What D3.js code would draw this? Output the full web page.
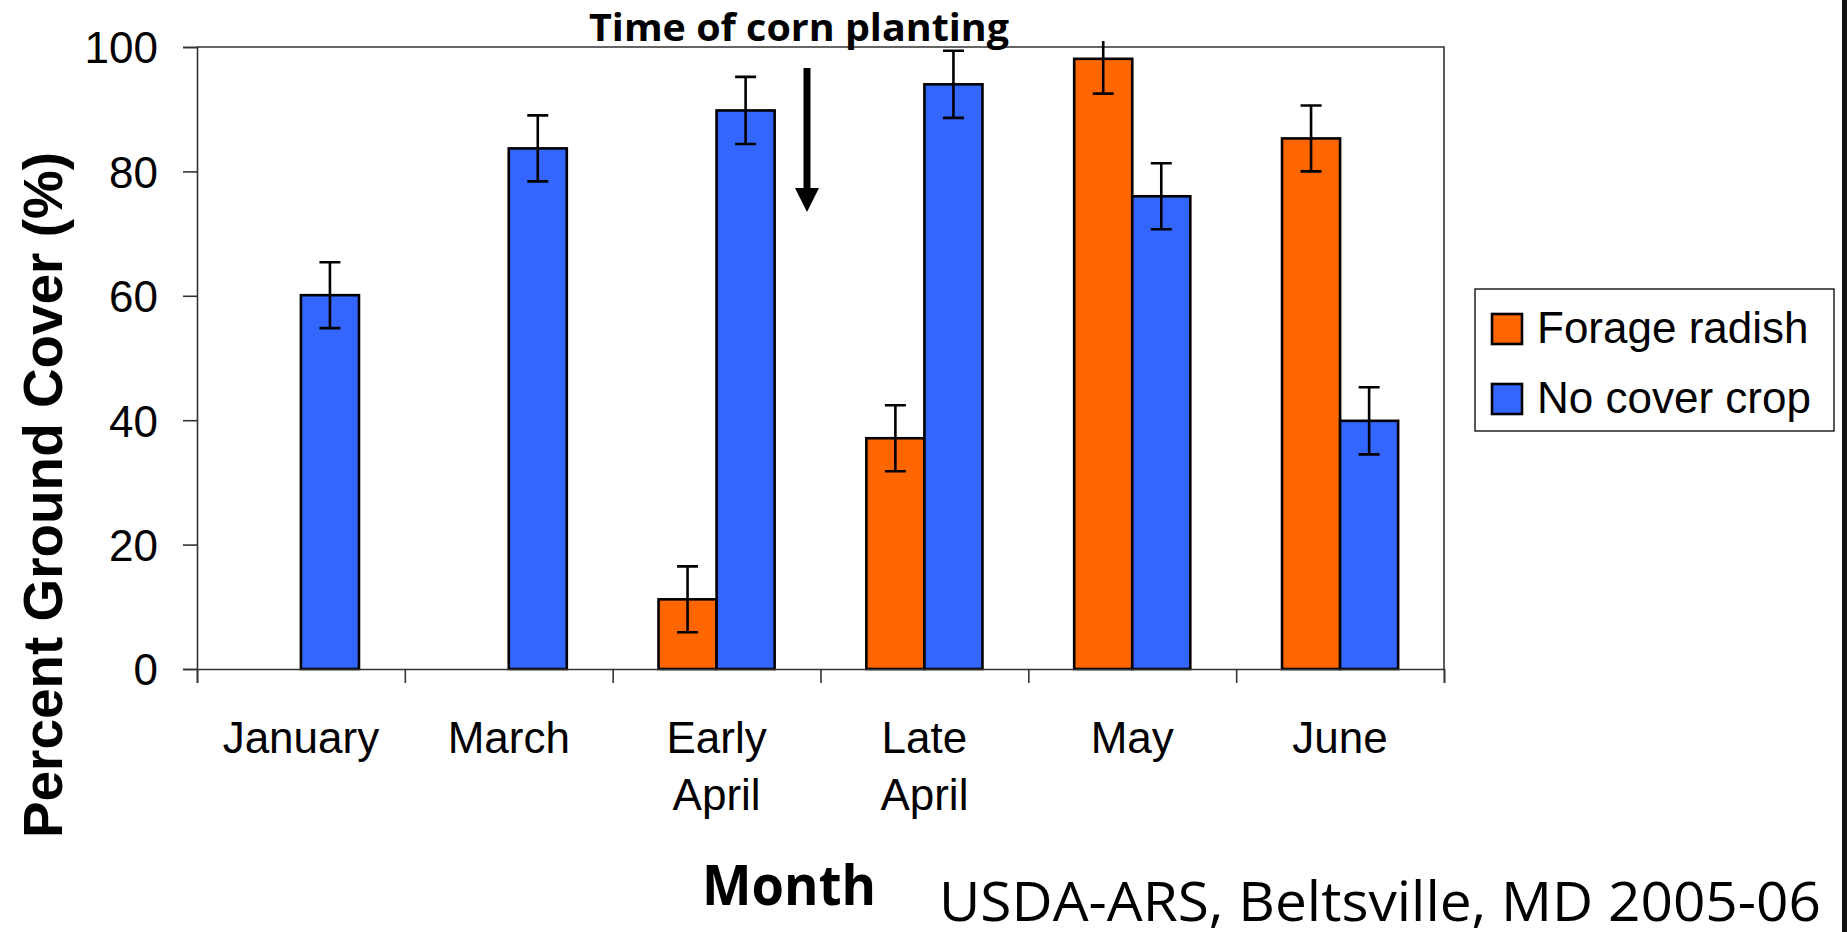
<!DOCTYPE html>
<html>
<head>
<meta charset="utf-8">
<script src="https://cdn.jsdelivr.net/npm/d3@7"></script>
<style>
  html, body { margin: 0; padding: 0; background: #fff; }
  svg { display: block; }
</style>
</head>
<body>
<svg id="chart" width="1847" height="932"></svg>
<script>
// data
const months = ["January", "March", "Early April", "Late April", "May", "June"];
const seriesNames = ["Forage radish", "No cover crop"];
const radish = [null, null, 11.2, 37.1, 98.1, 85.3];
const radishErr = [null, null, 5.3, 5.3, 5.6, 5.3];
const noCover = [60.1, 83.7, 89.8, 94.0, 76.0, 39.9];
const noCoverErr = [5.3, 5.3, 5.4, 5.4, 5.3, 5.4];
const yTicks = [0, 20, 40, 60, 80, 100];
const colors = ["#FF6600", "#3366FF"];

const svg = d3.select("#chart");
const margin = {top: 47, right: 403, bottom: 263, left: 197};
const width = +svg.attr("width");
const height = +svg.attr("height");

const x0 = d3.scaleBand()
  .domain(months)
  .range([margin.left, width - margin.right])
  .paddingInner(0).paddingOuter(0);
const x1 = d3.scaleBand()
  .domain(seriesNames)
  .range([0, x0.bandwidth()])
  .paddingInner(0).paddingOuter(0.79);
const y = d3.scaleLinear()
  .domain([0, 100])
  .range([height - margin.bottom, margin.top]);

// band edges for the category ticks
const edges = d3.scaleLinear().domain([0, months.length]).range(x0.range());

const axisColor = "#333";

// error bars get cut a little above the plot top
svg.append("defs").append("clipPath")
  .attr("id", "errclip")
  .append("rect")
    .attr("x", 0).attr("y", margin.top - 6)
    .attr("width", width).attr("height", height);

// plot frame (top and right)
svg.append("path")
  .attr("fill", "none")
  .attr("stroke", axisColor)
  .attr("stroke-width", 1.6)
  .attr("d", `M${x0.range()[0]},${y(100)}H${x0.range()[1]}V${y(0)}`);

// bars
const rows = months.map((m, i) => ({
  month: m,
  vals: [
    {s: seriesNames[0], v: radish[i], e: radishErr[i], c: colors[0]},
    {s: seriesNames[1], v: noCover[i], e: noCoverErr[i], c: colors[1]}
  ].filter(d => d.v != null)
}));

const groups = svg.selectAll(".grp")
  .data(rows)
  .enter().append("g")
    .attr("transform", d => `translate(${x0(d.month)},0)`);

groups.selectAll("rect")
  .data(d => d.vals)
  .enter().append("rect")
    .attr("x", d => x1(d.s))
    .attr("y", d => y(d.v))
    .attr("width", x1.bandwidth())
    .attr("height", d => y(0) - y(d.v))
    .attr("fill", d => d.c)
    .attr("stroke", "#000")
    .attr("stroke-width", 2.6);

// error bars
const capW = 10.5;
const errLayer = svg.append("g").attr("clip-path", "url(#errclip)");
rows.forEach(r => {
  r.vals.forEach(d => {
    const cx = x0(r.month) + x1(d.s) + x1.bandwidth() / 2;
    const t = y(d.v + d.e), b = y(d.v - d.e);
    errLayer.append("path")
      .attr("fill", "none")
      .attr("stroke", "#000")
      .attr("stroke-width", 2.6)
      .attr("d", `M${cx},${t}V${b}M${cx - capW},${t}H${cx + capW}M${cx - capW},${b}H${cx + capW}`);
  });
});

// y axis
svg.append("g")
  .attr("transform", `translate(${margin.left},0)`)
  .call(d3.axisLeft(y).tickValues(yTicks).tickSize(14).tickPadding(25))
  .call(g => g.selectAll("path, line").attr("stroke", axisColor).attr("stroke-width", 1.6))
  .call(g => g.selectAll("text")
    .attr("font-family", "'Liberation Sans', Arial, sans-serif")
    .attr("font-size", 44)
    .attr("fill", "#000")
    .attr("dy", "0.36em"));

// x axis: ticks at band edges
svg.append("g")
  .attr("transform", `translate(0,${y(0)})`)
  .call(d3.axisBottom(edges).tickValues(d3.range(months.length + 1)).tickSize(14).tickFormat(""))
  .call(g => g.selectAll("path, line").attr("stroke", axisColor).attr("stroke-width", 1.6));

// category labels (two lines where needed)
const labels = svg.append("g")
  .attr("font-family", "'Liberation Sans', Arial, sans-serif")
  .attr("font-size", 44)
  .attr("text-anchor", "middle");
months.forEach(m => {
  const words = m.split(" ");
  words.forEach((w, i) => {
    labels.append("text")
      .attr("x", x0(m) + x0.bandwidth() / 2)
      .attr("y", 753 + i * 56.5)
      .text(w);
  });
});

// y title
svg.append("text")
  .attr("transform", "translate(62,495) rotate(-90)")
  .attr("text-anchor", "middle")
  .attr("font-family", "'Liberation Sans', Arial, sans-serif")
  .attr("font-weight", "bold")
  .attr("font-size", 56)
  .attr("textLength", 686)
  .attr("lengthAdjust", "spacingAndGlyphs")
  .text("Percent Ground Cover (%)");

// x title and source
svg.append("text")
  .attr("x", 702).attr("y", 905)
  .attr("font-family", "'Open Sans', sans-serif")
  .attr("font-weight", "bold")
  .attr("font-size", 56)
  .attr("textLength", 174)
  .attr("lengthAdjust", "spacingAndGlyphs")
  .text("Month");

svg.append("text")
  .attr("x", 939).attr("y", 921)
  .attr("font-family", "'Open Sans', sans-serif")
  .attr("font-size", 54)
  .attr("textLength", 882)
  .attr("lengthAdjust", "spacingAndGlyphs")
  .text("USDA-ARS, Beltsville, MD 2005-06");

// annotation
svg.append("text")
  .attr("x", 589).attr("y", 41)
  .attr("font-family", "'Open Sans', sans-serif")
  .attr("font-weight", "bold")
  .attr("font-size", 38)
  .attr("textLength", 420)
  .attr("lengthAdjust", "spacingAndGlyphs")
  .text("Time of corn planting");

const ax = 807;
svg.append("line")
  .attr("x1", ax).attr("x2", ax)
  .attr("y1", 68).attr("y2", 190)
  .attr("stroke", "#000")
  .attr("stroke-width", 7);
svg.append("path")
  .attr("fill", "#000")
  .attr("d", `M${ax - 12},188L${ax + 12},188L${ax},212Z`);

// legend
const legend = svg.append("g");
legend.append("rect")
  .attr("x", 1475).attr("y", 289)
  .attr("width", 359).attr("height", 142)
  .attr("fill", "#fff")
  .attr("stroke", "#000")
  .attr("stroke-width", 1.3);
seriesNames.forEach((s, i) => {
  const ly = 314 + i * 70;
  legend.append("rect")
    .attr("x", 1492).attr("y", ly)
    .attr("width", 30).attr("height", 30)
    .attr("fill", colors[i])
    .attr("stroke", "#000")
    .attr("stroke-width", 2.6);
  legend.append("text")
    .attr("x", 1537).attr("y", ly + 29)
    .attr("font-family", "'Liberation Sans', Arial, sans-serif")
    .attr("font-size", 44)
    .text(s);
});

// right page edge line
svg.append("rect")
  .attr("x", 1842).attr("y", 0)
  .attr("width", 5).attr("height", height)
  .attr("fill", "#111");
</script>
</body>
</html>
